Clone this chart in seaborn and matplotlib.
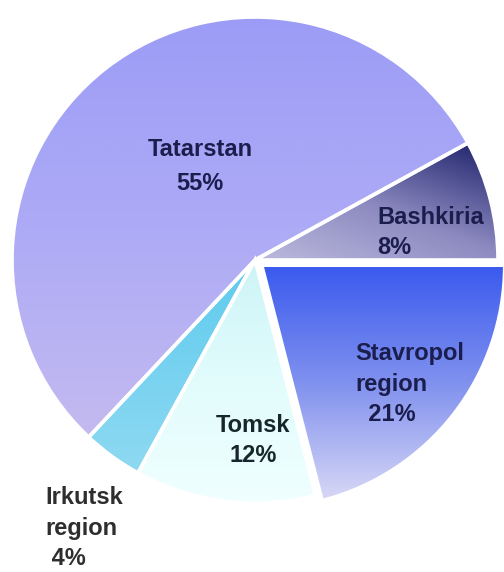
import numpy as np
import matplotlib
matplotlib.use("Agg")
import matplotlib.pyplot as plt
import seaborn as sns
from matplotlib.colors import LinearSegmentedColormap

# Shares of the regions (per cent), drawn counter-clockwise from 3 o'clock
regions = ["Bashkiria", "Tatarstan", "Irkutsk\nregion", "Tomsk", "Stavropol\nregion"]
shares = [8, 55, 4, 12, 21]
pct_labels = ["8%", "55%", " 4%", "12%", "  21%"]

# Fill gradients per slice: (colour stops, gradient direction in degrees)
fills = [
    (["#bcbadd", "#8c8ac0", "#272a72"], 70),
    (["#c4baf0", "#adabf6", "#9c9cf6"], 90),
    (["#8fd9f2", "#5ecbee"], 90),
    (["#f0ffff", "#e2fcfc", "#cdf4f7"], 90),
    (["#d8d8f6", "#8091ee", "#3a5aee"], 90),
]
explode = [0, 0, 0, 0, 0.035]

# Label placement: (x, y, horizontal alignment, line spacing, text colour)
label_layout = [
    (0.502, 0.113, "left", 1.42, "#1b1d4d"),
    (-0.226, 0.385, "center", 1.66, "#1b1d4d"),
    (-0.864, -1.103, "left", 1.40, "#2e2e2e"),
    (-0.008, -0.743, "center", 1.42, "#17262c"),
    (0.412, -0.512, "left", 1.42, "#1b1d4d"),
]

sns.set_theme(style="white")
plt.rcParams["font.family"] = ["Liberation Sans", "DejaVu Sans"]

fig = plt.figure(figsize=(5.04, 5.72), dpi=100)
fig.patch.set_facecolor("white")
ax = fig.add_axes([0, 0, 1, 1])

base_colors = [f[0][1] for f in fills]
wedges, _ = ax.pie(
    shares, startangle=0, counterclock=True, explode=explode, radius=1.0,
    colors=base_colors, wedgeprops=dict(linewidth=0),
)

# Gradient fills clipped to each wedge
n = 400
gx, gy = np.meshgrid(np.linspace(-1.2, 1.2, n), np.linspace(-1.2, 1.2, n))
for wedge, (stops, ang) in zip(wedges, fills):
    d = np.array([np.cos(np.radians(ang)), np.sin(np.radians(ang))])
    verts = wedge.get_path().vertices
    proj = verts @ d
    lo, hi = proj.min(), proj.max()
    t = np.clip((gx * d[0] + gy * d[1] - lo) / (hi - lo), 0, 1)
    cmap = LinearSegmentedColormap.from_list("fill", stops)
    im = ax.imshow(t, extent=(-1.2, 1.2, -1.2, 1.2), origin="lower",
                   cmap=cmap, vmin=0, vmax=1, aspect="auto",
                   interpolation="bilinear", zorder=2)
    im.set_clip_path(wedge)

# White separators between slices
ax.pie(
    shares, startangle=0, counterclock=True, explode=explode, radius=1.0,
    wedgeprops=dict(facecolor="none", edgecolor="white", linewidth=2.6, zorder=3),
)

for name, pct, (x, y, ha, ls, col) in zip(regions, pct_labels, label_layout):
    ax.text(x, y, f"{name}\n{pct}", ha=ha, va="center", multialignment=ha,
            fontsize=17, fontweight="bold", color=col, linespacing=ls, zorder=5)

ax.set_xlim(-255 / 243, (504 - 255) / 243)
ax.set_ylim(-(572 - 260) / 243, 260 / 243)
ax.set_aspect("auto")
ax.axis("off")

fig.savefig("out.png", dpi=100, facecolor="white")
